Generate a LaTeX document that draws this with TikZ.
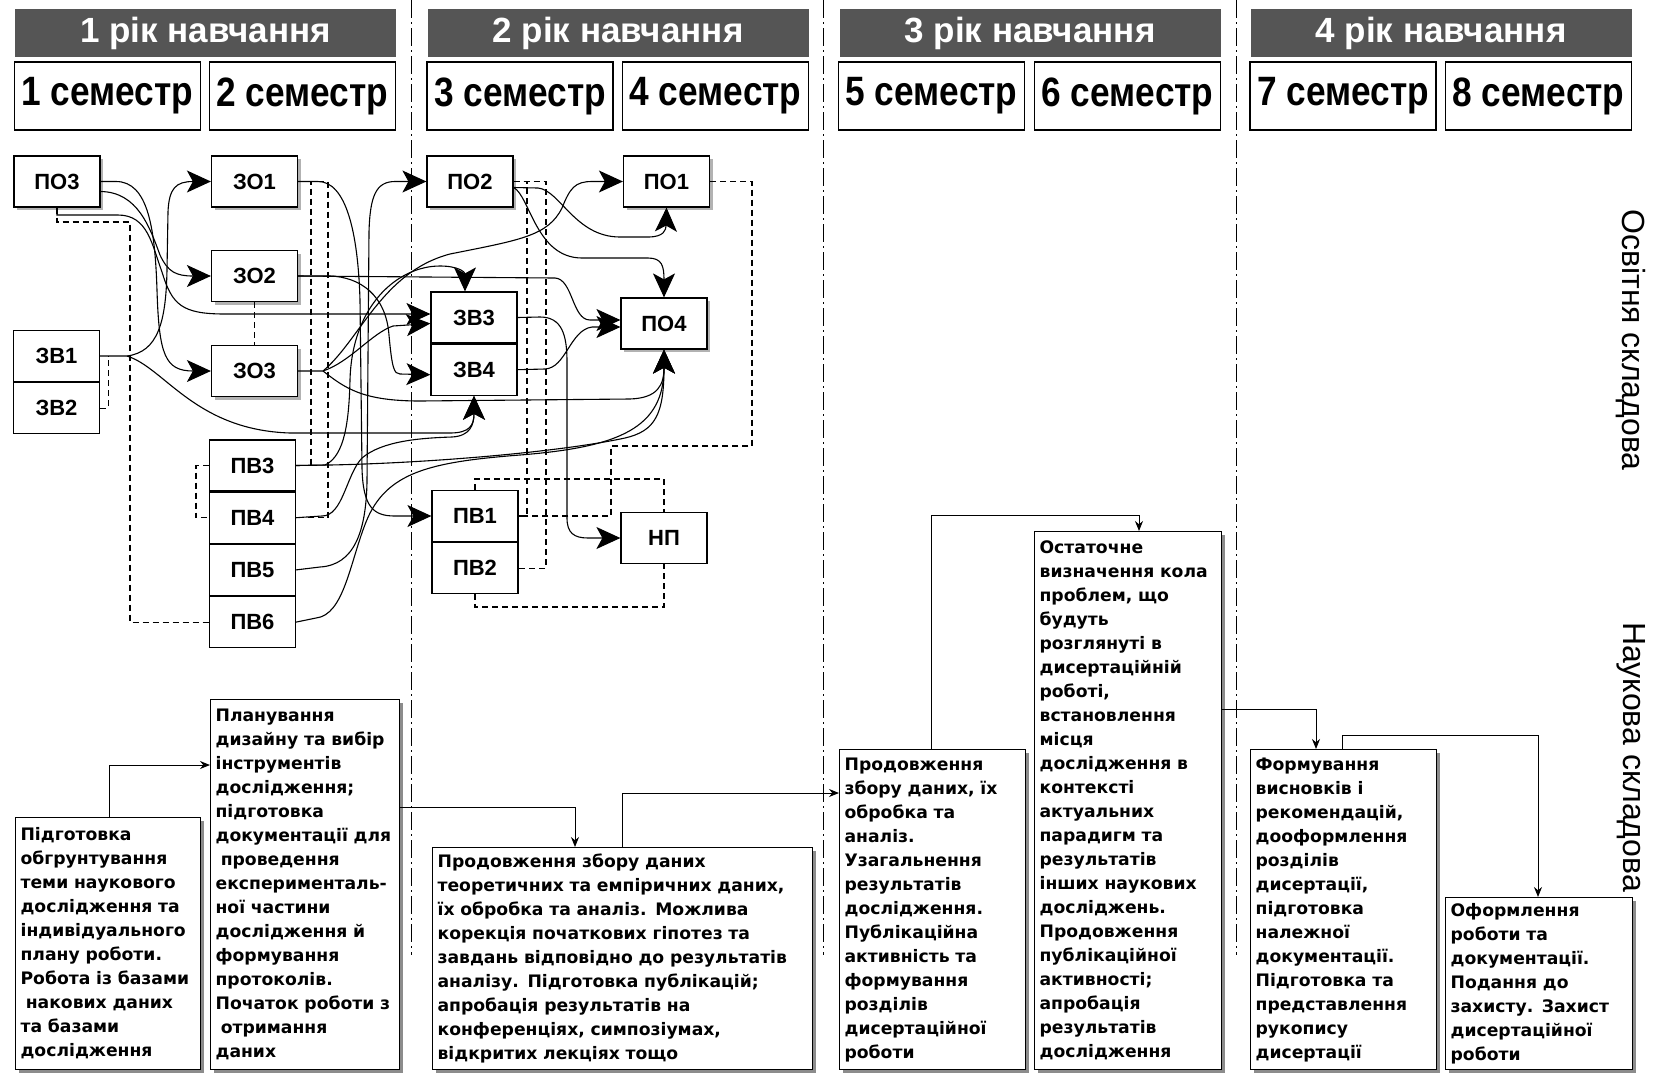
\documentclass[tikz,border=0pt]{standalone}
\usepackage{fontspec}
\setmainfont{Liberation Sans}
\newfontfamily\narrowfont[FakeStretch=0.86]{Liberation Sans}
\newfontfamily\blockfont{DejaVu Sans}
\usetikzlibrary{arrows.meta,calc,positioning,shadows}
\definecolor{hdrgray}{RGB}{85,85,85}

\begin{document}
\begin{tikzpicture}[x=0.5pt,y=-0.5pt,
  yearbar/.style={fill=hdrgray,draw=none,text=white,inner sep=0pt,
    minimum width=190.5pt,minimum height=24pt,
    font=\bfseries\fontsize{17.5}{20}\selectfont},
  sembox/.style={draw=black,fill=white,line width=0.7pt,inner sep=0pt,
    minimum width=93pt,minimum height=34pt,
    font=\narrowfont\bfseries\fontsize{20.5}{22}\selectfont},
  pbox/.style={draw=black,fill=white,line width=0.6pt,inner sep=0pt,
    minimum width=43pt,minimum height=25.5pt,
    font=\bfseries\fontsize{11}{12}\selectfont},
  sbox/.style={pbox,drop shadow={shadow xshift=1.5pt,shadow yshift=-1.5pt,fill=black,opacity=0.3}},
  stage/.style={draw=black,fill=white,line width=0.6pt,anchor=north west,align=left,
    inner xsep=2.5pt,inner ysep=2pt,
    font=\blockfont\bfseries\fontsize{8.6}{12}\selectfont,
    drop shadow={shadow xshift=1.5pt,shadow yshift=-1.5pt,fill=black,opacity=0.45}},
  yearsep/.style={line width=0.5pt,dash pattern=on 9pt off 2pt on 1pt off 2pt},
  arr/.style={line width=0.55pt,-{Stealth[length=12pt,width=11pt,inset=3pt]}},
  dsh/.style={line width=0.6pt,dash pattern=on 3pt off 2pt},
  flow/.style={line width=0.5pt,-{Stealth[length=5pt,width=4pt]}}
]
\useasboundingbox (0,0) rectangle (1654,1072);

\foreach \sx in {411,823,1236}
  \draw[yearsep] (\sx,0) -- (\sx,955);

% years and semesters
\node[yearbar] (yr1) at (205.5,33) {1 рік навчання};
\node[yearbar] (yr2) at (618,33) {2 рік навчання};
\node[yearbar] (yr3) at (1030,33) {3 рік навчання};
\node[yearbar] (yr4) at (1441,33) {4 рік навчання};
\node[sembox] (sem1) at (107.5,96) {1 семестр};
\node[sembox] (sem2) at (302.5,96) {2 семестр};
\node[sembox] (sem3) at (520,96) {3 семестр};
\node[sembox] (sem4) at (715.5,96) {4 семестр};
\node[sembox] (sem5) at (931.5,96) {5 семестр};
\node[sembox] (sem6) at (1127.5,96) {6 семестр};
\node[sembox] (sem7) at (1343,96) {7 семестр};
\node[sembox] (sem8) at (1538.5,96) {8 семестр};

\node[rotate=-90,font=\fontsize{16}{18}\selectfont] (lbedu) at (1631,340) {Освітня складова};
\node[rotate=-90,font=\fontsize{16}{18}\selectfont] (lbsci) at (1631,757) {Наукова складова};

% educational part
\node[sbox] (po3) at (57,181.5) {ПО3};
\node[sbox] (zo1) at (254.5,181.5) {ЗО1};
\node[sbox] (zo2) at (254.5,276) {ЗО2};
\node[sbox] (zo3) at (254.5,371) {ЗО3};
\node[pbox] (zv1) at (56.5,356) {ЗВ1};
\node[pbox,below=0pt of zv1] (zv2) {ЗВ2};
\node[pbox] (pv3) at (252.5,465.5) {ПВ3};
\node[pbox,below=0pt of pv3] (pv4) {ПВ4};
\node[pbox,below=0pt of pv4] (pv5) {ПВ5};
\node[pbox,below=0pt of pv5] (pv6) {ПВ6};
\node[sbox] (po2) at (470,181.5) {ПО2};
\node[sbox] (po1) at (666.5,181.5) {ПО1};
\node[pbox] (zv3) at (474,317.5) {ЗВ3};
\node[pbox,below=0pt of zv3] (zv4) {ЗВ4};
\node[sbox] (po4) at (664,323.5) {ПО4};
\node[pbox] (pv1) at (475,516) {ПВ1};
\node[pbox,below=0pt of pv1] (pv2) {ПВ2};
\node[pbox] (np) at (664,538) {НП};

\coordinate (zvsplit) at (127,356);
\coordinate (zosplit) at (323,371);

\draw[arr] ($(po3.east)+(0,10)$) .. controls (138,192) and (150,228) .. (160,255) .. controls (168,272) and (176,276) .. (zo2.west);
\draw[arr] (po3.east) -- (116,181.5) .. controls (148,181.5) and (155,228) .. (157,290) .. controls (159,355) and (165,371) .. (zo3.west);
\draw[arr] (po3.south) -- (57,215) -- (118,215) .. controls (148,215) and (152,245) .. (162,272) .. controls (172,305) and (182,314) .. (225,314) -- ($(zv3.west)+(0,-3.5)$);
\draw[arr] (zv1.east) -- (zvsplit) .. controls (158,352) and (166,322) .. (167,270) -- (168,212) .. controls (169,188) and (176,181.5) .. (zo1.west);
\draw[arr] (zvsplit) .. controls (165,368) and (195,430) .. (290,433) -- (450,433) .. controls (470,433) and (474,425) .. (zv4.south);
\draw[arr] (zo1.east) -- (318,181.5) .. controls (346,181.5) and (358,232) .. (360,300) -- (362,468) .. controls (363,508) and (374,516) .. (395,516) -- (pv1.west);
\draw[arr] (zo2.east) -- (555,278) .. controls (573,279) and (572,320) .. (590,320) -- ($(po4.west)+(0,-3.5)$);
\draw[arr] (zo2.east) -- (330,276) .. controls (360,277) and (386,295) .. (389,335) .. controls (392,368) and (394,374) .. (400,374) -- ($(zv4.west)+(0,5)$);
\draw[arr] (zo3.east) -- (zosplit) .. controls (350,362) and (372,333) .. (393,326) -- ($(zv3.west)+(0,6)$);
\draw[arr] (zosplit) .. controls (360,340) and (382,272) .. (450,254) .. controls (520,240) and (548,236) .. (562,208) .. controls (570,188) and (575,181.5) .. (592,181.5) -- (po1.west);
\draw[arr] (zosplit) .. controls (345,388) and (362,401) .. (420,401) -- (630,399) .. controls (658,398) and (664,385) .. (po4.south);
\draw[arr] (pv3.east) -- (325,465) .. controls (345,456) and (349,420) .. (350,380) .. controls (352,305) and (398,266) .. (440,266) .. controls (458,266) and (465,272) .. ($(zv3.north)+(-9,0)$);
\draw[arr] (pv3.east) -- (330,465) .. controls (430,463) and (560,452) .. (625,438) .. controls (655,431) and (664,415) .. (po4.south);
\draw[arr] (pv4.east) -- (322,516) .. controls (343,516) and (346,475) .. (362,458) .. controls (382,441) and (420,438) .. (452,437) .. controls (470,436) and (474,425) .. (zv4.south);
\draw[arr] (pv5.east) -- (320,567) .. controls (354,565) and (366,532) .. (367,482) -- (369,232) .. controls (370,196) and (376,181.5) .. (395,181.5) -- (po2.west);
\draw[arr] (pv6.east) -- (316,618) .. controls (344,615) and (350,562) .. (366,522) .. controls (386,472) and (430,462) .. (520,455) .. controls (620,447) and (664,428) .. (po4.south);
\draw[arr] ($(po2.east)+(0,6)$) -- (538,188) .. controls (560,190) and (575,237) .. (620,237) -- (648,237) .. controls (664,237) and (666,230) .. (po1.south);
\draw[arr] ($(po2.east)+(0,6)$) .. controls (530,196) and (536,258) .. (582,258) -- (648,258) .. controls (662,258) and (664,266) .. (po4.north);
\draw[arr] (zv3.east) -- (540,317) .. controls (562,317) and (567,335) .. (567,362) -- (567,518) .. controls (567,533) and (574,538) .. (588,538) -- (np.west);
\draw[arr] (zv4.east) -- (545,369) .. controls (566,368) and (570,330) .. (592,327) -- ($(po4.west)+(0,3.5)$);

\draw[dsh] (po3.south) |- (130,222) |- (pv6.west);
\draw[dsh] (zv2.east) -| ($(zv1.east)+(8,0)$);
\draw[dsh] (zo2.south) -- (zo3.north);
\draw[dsh] (zo1.east) -- (311,181.5) |- (pv3.east);
\draw[dsh] (zo1.east) -- (328,181.5) |- (pv4.east);
\draw[dsh] (pv3.west) -- (196,465.5) |- (pv4.west);
\draw[dsh] (po2.east) -- (527,181.5) |- (pv1.east);
\draw[dsh] (po2.east) -- (546,181.5) |- (pv2.east);
\draw[dsh] (po1.east) -| (752,446) -- (611,446) |- (pv1.east);
\draw[dsh] (pv1.north) -- (475,479) -| (np.north);
\draw[dsh] (pv2.south) -- (475,607) -| (np.south);

% research part
\node[stage,minimum width=92.5pt,minimum height=126pt,text width=87.5pt] (st1) at (15,817)
  {Підготовка\\обгрунтування\\теми наукового\\дослідження та\\індивідуального\\плану роботи.\\Робота із базами\\\hspace*{0.3em}накових даних\\та базами\\дослідження};
\node[stage,minimum width=94.5pt,minimum height=185pt,text width=89.5pt] (st2) at (210,699)
  {Планування\\дизайну та вибір\\інструментів\\дослідження;\\підготовка\\документації для\\\hspace*{0.3em}проведення\\експерименталь-\\ної частини\\дослідження й\\формування\\протоколів.\\Початок роботи з\\\hspace*{0.3em}отримання\\даних};
\node[stage,minimum width=190pt,minimum height=111pt,text width=185pt] (st3) at (432,847)
  {Продовження збору даних\\теоретичних та емпіричних даних,\\їх обробка та аналіз. Можлива\\корекція початкових гіпотез та\\завдань відповідно до результатів\\аналізу. Підготовка публікацій;\\апробація результатів на\\конференціях, симпозіумах,\\відкритих лекціях тощо};
\node[stage,minimum width=93pt,minimum height=160pt,text width=88pt] (st4) at (839,749)
  {Продовження\\збору даних, їх\\обробка та\\аналіз.\\Узагальнення\\результатів\\дослідження.\\Публікаційна\\активність та\\формування\\розділів\\дисертаційної\\роботи};
\node[stage,minimum width=93.5pt,minimum height=269pt,text width=88.5pt] (st5) at (1034,531)
  {Остаточне\\визначення кола\\проблем, що\\будуть\\розглянуті в\\дисертаційній\\роботі,\\встановлення\\місця\\дослідження в\\контексті\\актуальних\\парадигм та\\результатів\\інших наукових\\досліджень.\\Продовження\\публікаційної\\активності;\\апробація\\результатів\\дослідження};
\node[stage,minimum width=93pt,minimum height=160pt,text width=88pt] (st6) at (1250,749)
  {Формування\\висновків і\\рекомендацій,\\дооформлення\\розділів\\дисертації,\\підготовка\\належної\\документації.\\Підготовка та\\представлення\\рукопису\\дисертації};
\node[stage,minimum width=93.5pt,minimum height=86pt,text width=88.5pt] (st7) at (1445,897)
  {Оформлення\\роботи та\\документації.\\Подання до\\захисту. Захист\\дисертаційної\\роботи};

\coordinate (c1) at (109,765);
\coordinate (c2) at (575,807);
\coordinate (c3) at (622,793);
\coordinate (c4a) at (931,515);
\coordinate (c4b) at (1139,515);
\coordinate (c5) at (1316,709);
\coordinate (c6a) at (1342,735);
\coordinate (c6b) at (1538,735);
\draw[flow] (c1 |- st1.north) -- (c1) -- (c1 -| st2.west);
\draw[flow] (c2 -| st2.east) -- (c2) -- (c2 |- st3.north);
\draw[flow] (c3 |- st3.north) -- (c3) -- (c3 -| st4.west);
\draw[flow] (c4a |- st4.north) -- (c4a) -- (c4b) -- (c4b |- st5.north);
\draw[flow] (c5 -| st5.east) -- (c5) -- (c5 |- st6.north);
\draw[flow] (c6a |- st6.north) -- (c6a) -- (c6b) -- (c6b |- st7.north);

\end{tikzpicture}
\end{document}
